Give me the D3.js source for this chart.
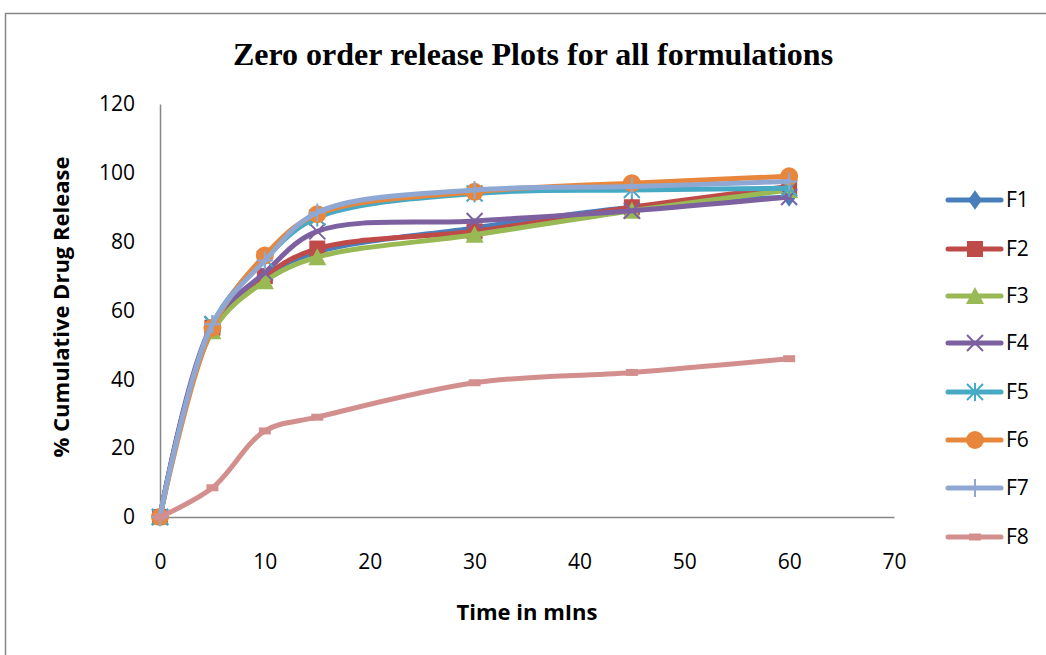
<!DOCTYPE html>
<html>
<head>
<meta charset="utf-8">
<script src="https://cdn.jsdelivr.net/npm/d3@7/dist/d3.min.js"></script>
<style>
  body { margin: 0; background: #fff; }
  text { font-family: "Open Sans", "Liberation Sans", sans-serif; fill: #000; }
</style>
</head>
<body>
<div class="chart"></div>
<script>
// data
var times = [0, 5, 10, 15, 30, 45, 60];
var seriesNames = ["F1", "F2", "F3", "F4", "F5", "F6", "F7", "F8"];
var f1 = [0, 55, 70, 77, 84, 90, 93];
var f2 = [0, 55, 70, 78, 83, 90, 96];
var f3 = [0, 54, 68.5, 75.5, 82, 89, 95];
var f4 = [0, 56, 71, 83, 86, 89, 93];
var f5 = [0, 56, 75, 87, 94, 95, 95.5];
var f6 = [0, 55, 76, 88, 94.5, 97, 99];
var f7 = [0, 56, 74.5, 88.5, 95, 96, 97.5];
var f8 = [0, 8.5, 25, 29, 39, 42, 46];
var xTicks = [0, 10, 20, 30, 40, 50, 60, 70];
var yTicks = [0, 20, 40, 60, 80, 100, 120];

var allSeries = [f1, f2, f3, f4, f5, f6, f7, f8];
var colors = ["#4A7EBB", "#BE4B48", "#98B954", "#7D60A0", "#46AAC5", "#E8873C", "#8EA8D3", "#D38F8E"];
var markers = ["diamond", "square", "triangle", "x", "star", "circle", "plus", "dash"];

var svgWidth = 1046;
var svgHeight = 655;

var svg = d3.select('.chart')
  .append('svg')
    .attr('width', svgWidth)
    .attr('height', svgHeight);

// chart border
svg.append('rect')
  .attr('x', 5.5).attr('y', 13.5)
  .attr('width', 1100).attr('height', 700)
  .attr('fill', 'none')
  .attr('stroke', '#868686')
  .attr('stroke-width', 1.5);

var xScale = d3.scaleLinear().domain([0, 70]).range([160, 894]);
var yScale = d3.scaleLinear().domain([0, 120]).range([517, 104]);

// title
svg.append('text')
  .attr('x', 533).attr('y', 65)
  .attr('text-anchor', 'middle')
  .style('font-family', '"Liberation Serif", "Times New Roman", serif')
  .style('font-weight', 'bold')
  .style('font-size', '32px')
  .text('Zero order release Plots for all formulations');

// axes (no tick marks, just the lines and labels)
var bottomAxis = d3.axisBottom(xScale).tickValues(xTicks).tickSize(0).tickPadding(34);
var leftAxis = d3.axisLeft(yScale).tickValues(yTicks).tickSize(0).tickPadding(25);

var gx = svg.append('g')
  .attr('transform', 'translate(0,' + yScale(0) + ')')
  .call(bottomAxis);
var gy = svg.append('g')
  .attr('transform', 'translate(' + xScale(0) + ',0)')
  .call(leftAxis);

[gx, gy].forEach(function(g) {
  g.select('.domain').attr('stroke', '#868686').attr('stroke-width', 1.5);
  g.selectAll('text')
    .style('font-family', '"Open Sans", "Liberation Sans", sans-serif')
    .style('font-size', '21px')
    .attr('fill', '#000');
});
gx.selectAll('text').attr('dy', '0.35em').attr('y', 45);

// axis titles
svg.append('text')
  .attr('transform', 'translate(69,' + 307 + ') rotate(-90)')
  .attr('text-anchor', 'middle')
  .style('font-weight', 'bold')
  .style('font-size', '22px')
  .text('% Cumulative Drug Release');

svg.append('text')
  .attr('x', 527).attr('y', 620)
  .attr('text-anchor', 'middle')
  .style('font-weight', 'bold')
  .style('font-size', '22px')
  .text('Time in mIns');

// smoothed lines like the spreadsheet
var line = d3.line()
  .x(function(d, i) { return xScale(times[i]); })
  .y(function(d) { return yScale(d); })
  .curve(d3.curveCatmullRom.alpha(0.5));

function drawMarker(g, type, color, cx, cy) {
  if (type === 'diamond') {
    g.append('path').attr('d', d3.symbol().type(d3.symbolDiamond).size(110)())
      .attr('transform', 'translate(' + cx + ',' + cy + ') scale(1.25,1)')
      .attr('fill', color);
  } else if (type === 'square') {
    g.append('rect').attr('x', cx - 8).attr('y', cy - 8).attr('width', 16).attr('height', 16)
      .attr('fill', color);
  } else if (type === 'triangle') {
    g.append('path').attr('d', 'M' + cx + ',' + (cy - 9) + 'L' + (cx + 9) + ',' + (cy + 8) + 'L' + (cx - 9) + ',' + (cy + 8) + 'Z')
      .attr('fill', color);
  } else if (type === 'x') {
    g.append('path').attr('d', 'M' + (cx - 8) + ',' + (cy - 8) + 'L' + (cx + 8) + ',' + (cy + 8) + 'M' + (cx - 8) + ',' + (cy + 8) + 'L' + (cx + 8) + ',' + (cy - 8))
      .attr('stroke', color).attr('stroke-width', 2).attr('fill', 'none');
  } else if (type === 'star') {
    g.append('path').attr('d', 'M' + (cx - 8) + ',' + (cy - 8) + 'L' + (cx + 8) + ',' + (cy + 8) + 'M' + (cx - 8) + ',' + (cy + 8) + 'L' + (cx + 8) + ',' + (cy - 8) + 'M' + cx + ',' + (cy - 9) + 'L' + cx + ',' + (cy + 9))
      .attr('stroke', color).attr('stroke-width', 2).attr('fill', 'none');
  } else if (type === 'circle') {
    g.append('circle').attr('cx', cx).attr('cy', cy).attr('r', 9).attr('fill', color);
  } else if (type === 'plus') {
    g.append('path').attr('d', 'M' + (cx - 8) + ',' + cy + 'L' + (cx + 8) + ',' + cy + 'M' + cx + ',' + (cy - 9) + 'L' + cx + ',' + (cy + 9))
      .attr('stroke', color).attr('stroke-width', 2).attr('fill', 'none');
  } else if (type === 'dash') {
    g.append('rect').attr('x', cx - 6).attr('y', cy - 3.5).attr('width', 12).attr('height', 7)
      .attr('fill', color);
  }
}

var plot = svg.append('g');
allSeries.forEach(function(values, s) {
  var g = plot.append('g');
  g.append('path')
    .datum(values)
    .attr('d', line)
    .attr('fill', 'none')
    .attr('stroke', colors[s])
    .attr('stroke-width', 5)
    .attr('stroke-linecap', 'round');
  values.forEach(function(v, i) {
    drawMarker(g, markers[s], colors[s], xScale(times[i]), yScale(v));
  });
});

// legend
var legendY = [200, 249, 296, 343, 392, 440, 488, 537];
var legend = svg.append('g');
seriesNames.forEach(function(name, s) {
  var g = legend.append('g');
  g.append('line')
    .attr('x1', 948).attr('x2', 1001)
    .attr('y1', legendY[s]).attr('y2', legendY[s])
    .attr('stroke', colors[s]).attr('stroke-width', 5)
    .attr('stroke-linecap', 'round');
  drawMarker(g, markers[s], colors[s], 975, legendY[s]);
  g.append('text')
    .attr('x', 1006).attr('y', legendY[s])
    .attr('dy', '0.35em')
    .style('font-size', '21px')
    .text(name);
});
</script>
</body>
</html>
